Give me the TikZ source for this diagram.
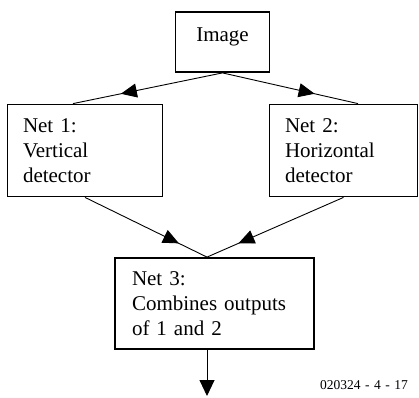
\documentclass[tikz,border=0pt]{standalone}
\usepackage{fontspec}
\setmainfont{Liberation Serif}
\usetikzlibrary{arrows.meta,decorations.markings}
\begin{document}
\begin{tikzpicture}[x=1pt,y=1pt,
  box/.style={draw, line width=1.8pt, inner sep=0pt, font=\fontsize{21}{25}\selectfont},
  netbox/.style={box, align=left, text width=#1},
  link/.style={line width=0.9pt, postaction={decorate},
    decoration={markings, mark=at position #1 with {\arrow{Triangle[length=16pt,width=14pt]}}}},
  outlink/.style={line width=0.9pt, -{Triangle[length=16pt,width=15pt]}},
  code/.style={font=\fontsize{13.5}{15}\selectfont, inner sep=0pt, anchor=base west}
]
\useasboundingbox (0,0) rectangle (419,397);
\node[box, minimum width=94pt, minimum height=60pt, text height=0pt, text depth=0pt] (img) at (222.5,355) {Image};
\node[netbox=124pt, minimum width=155pt, minimum height=92pt] (net1) at (85,246.5) {Net 1:\\Vertical\\detector};
\node[netbox=117pt, minimum width=148pt, minimum height=92pt] (net2) at (343.5,246.5) {Net 2:\\Horizontal\\detector};
\node[netbox=165pt, minimum width=199pt, minimum height=91pt] (net3) at (214.5,93.5) {Net 3:\\Combines outputs\\of 1 and 2};
\coordinate (out) at (207,1);
\draw[link=0.68] (img.south) -- ([xshift=-12pt]net1.north);
\draw[link=0.68] (img.south) -- ([xshift=14.5pt]net2.north);
\draw[link=0.77] (net1.south) -- ([xshift=-7.5pt]net3.north);
\draw[link=0.77] (net2.south) -- ([xshift=-7.5pt]net3.north);
\draw[outlink] ([xshift=-7.5pt]net3.south) -- (out);
\node[code] (lbl) at (320,8) {020324\hspace{4.5pt}-\hspace{4.5pt}4\hspace{4.5pt}-\hspace{4.5pt}17};
\end{tikzpicture}
\end{document}
